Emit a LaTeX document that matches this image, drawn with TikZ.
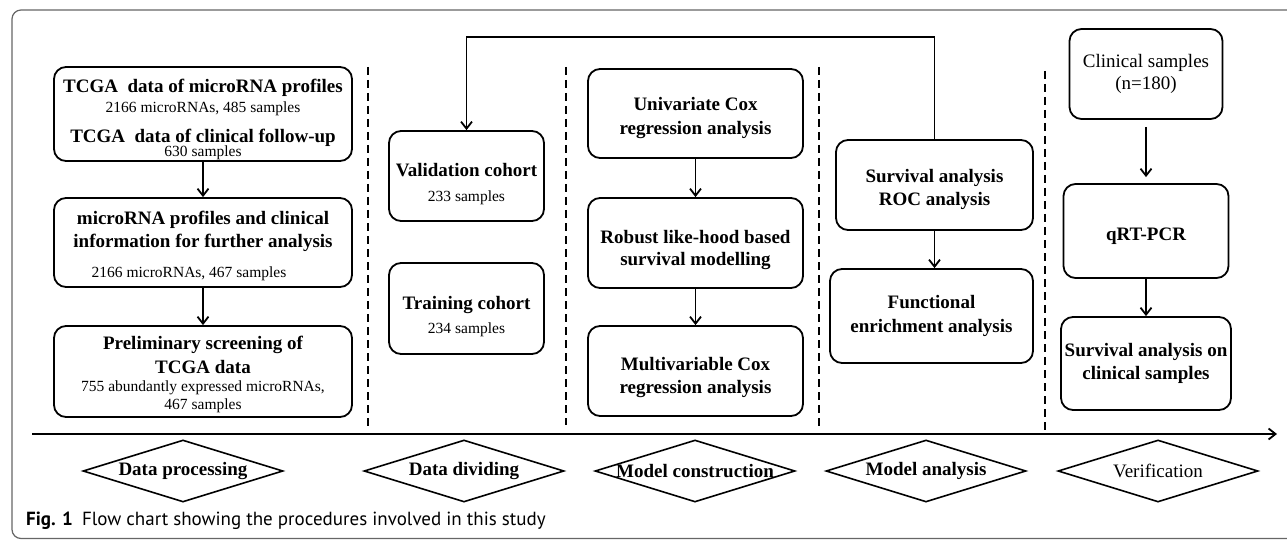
\documentclass[tikz,border=0pt]{standalone}
\usepackage{fontspec}
\setmainfont{Liberation Serif}
\newfontfamily\capfont{PT Sans}
\usetikzlibrary{calc,shapes,positioning}
\usetikzlibrary{arrows.meta}
\newcommand{\subtxt}[1]{{\mdseries\fontsize{15.5}{18}\selectfont #1}}

\begin{document}
\begin{tikzpicture}[x=1pt,y=-1pt]
    \tikzstyle{bnode} = [draw, line width=1.8pt, rectangle, rounded corners=12pt, inner sep=0pt, align=center, font={\fontsize{19}{22}\selectfont\bfseries\lineskiplimit=-50pt}]
    \tikzstyle{dnode} = [draw, line width=1.6pt, diamond, inner sep=0pt, minimum width=200pt, minimum height=62pt, font={\fontsize{19}{22}\selectfont\bfseries}]
    \tikzstyle{sepline} = [line width=1.8pt, dash pattern=on 8pt off 5pt]
    \tikzstyle{frm} = [line width=1.2pt, draw=black!60, rounded corners=9pt]
    \tikzstyle{conn} = [->, line width=1.8pt]
    \tikzset{>={Straight Barb[length=7pt,width=11pt]}}
    \useasboundingbox (0,0) rectangle (1287,540);
    \draw[frm] (1300,10) -- (12,10) -- (12,538.5) -- (1300,538.5);
    % data processing
    \node[bnode, minimum width=298pt, minimum height=94pt] (tcga) at (203,114) {\rule{0pt}{24pt}TCGA\ \ data of microRNA profiles\\[-2pt]
        \subtxt{2166 microRNAs, 485 samples}\\[8pt]
        TCGA\ \ data of clinical follow-up\\[-8pt]
        \subtxt{630 samples}};
    \node[bnode, minimum width=298pt, minimum height=89pt] (mir) at (203,242.5) {\rule{0pt}{20pt}microRNA profiles and clinical\\[1pt]
        information for further analysis\\[8pt]
        \subtxt{2166 microRNAs, 467 samples}\hspace*{28pt}};
    \node[bnode, minimum width=298pt, minimum height=91pt] (pre) at (203,371.5) {\rule{0pt}{19pt}Preliminary screening of\\[2pt]
        TCGA data\\[-4pt]
        \subtxt{755 abundantly expressed microRNAs,}\\[-4pt]
        \subtxt{467 samples}};
    % data dividing
    \node[bnode, minimum width=155pt, minimum height=90pt] (val) at (466.5,176) {\rule{0pt}{29pt}Validation cohort\\[3pt] \subtxt{233 samples}};
    \node[bnode, minimum width=155pt, minimum height=91pt] (train) at (466.5,308.5) {\rule{0pt}{29pt}Training cohort\\[2pt] \subtxt{234 samples}};
    % model construction
    \node[bnode, minimum width=215pt, minimum height=89pt] (uni) at (695.5,113.5) {\rule{0pt}{22pt}Univariate Cox\\[2pt] regression analysis};
    \node[bnode, minimum width=215pt, minimum height=90pt] (rob) at (695.5,243) {\rule{0pt}{27pt}Robust like-hood based\\[0pt] survival modelling};
    \node[bnode, minimum width=215pt, minimum height=90pt] (mul) at (695.5,371) {\rule{0pt}{26pt}Multivariable Cox\\[1pt] regression analysis};
    % model analysis
    \node[bnode, minimum width=197pt, minimum height=90pt] (surv) at (934.5,185) {\rule{0pt}{22pt}Survival analysis\\[1pt] ROC analysis};
    \node[bnode, minimum width=203pt, minimum height=94pt] (func) at (931.5,316) {Functional\\[2pt] enrichment analysis};
    % verification
    \node[bnode, minimum width=153pt, minimum height=90pt] (clin) at (1146,74) {\mdseries Clinical samples\\[0pt] \mdseries (n=180)};
    \node[bnode, minimum width=165pt, minimum height=94pt] (qrt) at (1146,231) {\rule{0pt}{23pt}qRT-PCR};
    \node[bnode, minimum width=170pt, minimum height=93pt] (survcl) at (1146,363.5) {Survival analysis on\\[1pt] clinical samples};

    \foreach \x/\ya/\yb in {368/67/426, 566/67/425, 819/67/426, 1045/71/433}
        \draw[sepline] (\x,\ya) -- (\x,\yb);

    \coordinate (ax0) at (32,434);
    \coordinate (ax1) at (1277,434);
    \draw[conn] (ax0) -- (ax1);

    \node[dnode] (dp) at (183,471) {\makebox[0pt]{Data processing}};
    \node[dnode] (dd) at (464,471) {\makebox[0pt]{Data dividing}};
    \node[dnode] (mc) at (695,471) {\makebox[0pt]{Model construction}};
    \node[dnode] (ma) at (926,471) {\makebox[0pt]{Model analysis}};
    \node[dnode] (vf) at (1158,471) {\makebox[0pt]{\mdseries Verification}};

    \draw[conn] (tcga) -- (mir);
    \draw[conn] (mir) -- (pre);
    \draw[conn] (uni) -- (rob);
    \draw[conn] (rob) -- (mul);
    \draw[conn] (surv.south) -- (surv.south |- func.north);
    \draw[conn] (surv.north) -- ++(0,-102) -| (val.north);
    \draw[conn, shorten <=7pt, shorten >=6pt] (clin) -- (qrt);
    \draw[conn] (qrt) -- (survcl);

    \node[anchor=base west, inner sep=0pt, font={\capfont\fontsize{19}{22}\selectfont}] (cap) at (26,525) {\textbf{Fig. 1}\hspace{9pt}Flow chart showing the procedures involved in this study};
\end{tikzpicture}
\end{document}
